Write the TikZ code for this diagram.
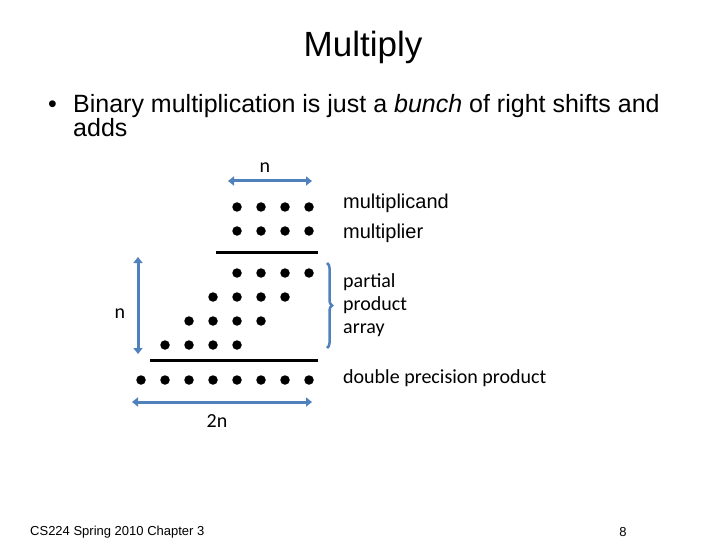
\documentclass[tikz,border=0pt]{standalone}
\usepackage{fontspec}
\setmainfont{Liberation Sans}
\newfontfamily\calfont{Carlito}
\usetikzlibrary{arrows.meta,decorations.pathreplacing}
\definecolor{slideblue}{RGB}{79,129,189}
\tikzset{
  bit/.style={circle,fill=black,inner sep=0pt,minimum size=9.5pt},
  sumline/.style={line width=3pt},
  span/.style={slideblue,line width=3pt,{Triangle[length=6pt,width=9pt]}-{Triangle[length=6pt,width=9pt]}},
  armlbl/.style={anchor=base west,inner sep=0pt,font=\fontsize{20}{24}\selectfont},
  callbl/.style={anchor=base west,inner sep=0pt,font=\calfont\fontsize{20}{24}\selectfont},
  dimlbl/.style={font=\calfont\fontsize{20}{24}\selectfont},
}
\begin{document}
\begin{tikzpicture}[x=1pt,y=-1pt]
    \useasboundingbox (0,0) rectangle (720,540);
    % Title and bullet
    \node[anchor=base] (title) at (363,57) {\fontsize{35}{40}\selectfont Multiply};
    \node[anchor=base west,inner sep=0pt] (bullet) at (48,113) {\fontsize{25}{24}\selectfont •};
    \node[anchor=base west,inner sep=0pt] (line1) at (73,113) {\fontsize{25}{24}\selectfont Binary multiplication is just a \emph{bunch} of right shifts and};
    \node[anchor=base west,inner sep=0pt] (line2) at (73,137) {\fontsize{25}{24}\selectfont adds};
    % Multiplicand and multiplier
    \node[bit] (a4) at (237,207) {}; \node[bit] (a5) at (261,207) {}; \node[bit] (a6) at (285,207) {}; \node[bit] (a7) at (309,207) {};
    \node[bit] (b4) at (237,231) {}; \node[bit] (b5) at (261,231) {}; \node[bit] (b6) at (285,231) {}; \node[bit] (b7) at (309,231) {};
    \coordinate (sum1L) at (216,252); \coordinate (sum1R) at (318,252);
    \draw[sumline] (sum1L) -- (sum1R);
    % Partial product array
    \node[bit] (p4) at (237,273) {}; \node[bit] (p5) at (261,273) {}; \node[bit] (p6) at (285,273) {}; \node[bit] (p7) at (309,273) {};
    \node[bit] (q3) at (213,297) {}; \node[bit] (q4) at (237,297) {}; \node[bit] (q5) at (261,297) {}; \node[bit] (q6) at (285,297) {};
    \node[bit] (r2) at (189,321) {}; \node[bit] (r3) at (213,321) {}; \node[bit] (r4) at (237,321) {}; \node[bit] (r5) at (261,321) {};
    \node[bit] (s1) at (165,345) {}; \node[bit] (s2) at (189,345) {}; \node[bit] (s3) at (213,345) {}; \node[bit] (s4) at (237,345) {};
    \coordinate (sum2L) at (150,360); \coordinate (sum2R) at (318,360);
    \draw[sumline] (sum2L) -- (sum2R);
    % Double precision product
    \node[bit] (d0) at (141,380) {}; \node[bit] (d1) at (165,380) {}; \node[bit] (d2) at (189,380) {}; \node[bit] (d3) at (213,380) {};
    \node[bit] (d4) at (237,380) {}; \node[bit] (d5) at (261,380) {}; \node[bit] (d6) at (285,380) {}; \node[bit] (d7) at (309,380) {};
    % Widths
    \coordinate (topL) at (228,181); \coordinate (topR) at (312,181);
    \draw[span] (topL) -- (topR);
    \node[dimlbl] (nTop) at (265,168) {n};
    \coordinate (leftT) at (138,257); \coordinate (leftB) at (138,354);
    \draw[span] (leftT) -- (leftB);
    \node[dimlbl] (nLeft) at (120,314) {n};
    \coordinate (botL) at (132,402); \coordinate (botR) at (312,402);
    \draw[span] (botL) -- (botR);
    \node[dimlbl] (nBot) at (217,421) {2n};
    % Labels
    \node[armlbl] (mcand) at (343,209) {multiplicand};
    \node[armlbl] (mplier) at (343,238) {multiplier};
    \coordinate (braceT) at (327,263); \coordinate (braceB) at (327,348);
    \draw[slideblue,line width=2.5pt,decorate,decoration={brace,amplitude=5pt}] (braceT) -- (braceB);
    \node[callbl] (partial) at (343,287) {partial};
    \node[callbl] (product) at (343,310) {product};
    \node[callbl] (array) at (343,333) {array};
    \node[callbl] (dprod) at (343,383) {double precision product};
    % Footer
    \node[anchor=base west,inner sep=0pt] (footer) at (30,535) {\fontsize{13}{15}\selectfont CS224 Spring 2010 Chapter 3};
    \node[anchor=base] (page) at (623,536) {\fontsize{13}{15}\selectfont 8};
\end{tikzpicture}
\end{document}
